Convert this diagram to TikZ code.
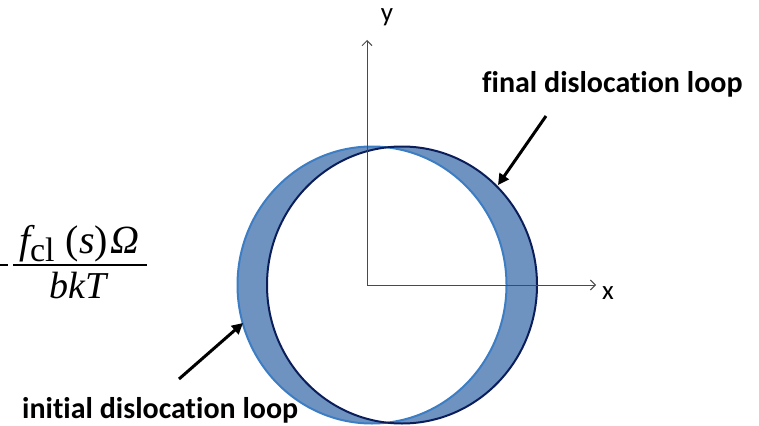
\documentclass[tikz,border=0pt]{standalone}
\usepackage{fontspec}
\setmainfont{Carlito}[Ligatures={NoCommon}]
\newfontfamily\tm{Liberation Serif}
\usetikzlibrary{arrows.meta}
\definecolor{loopfill}{HTML}{6F93C1}
\definecolor{initc}{HTML}{3C7DC3}
\definecolor{finalc}{HTML}{0C1E5A}
\definecolor{axisc}{HTML}{4A4A4A}
\tikzset{
  axisline/.style={draw=axisc, line width=1pt, -{Straight Barb[length=5pt,width=10pt]}},
  pointer/.style={draw=black, line width=3pt, -{Triangle[length=11pt,width=11pt]}},
  lbl/.style={font=\fontsize{30}{36}\selectfont\bfseries, inner sep=0, anchor=base west},
  axlbl/.style={font=\fontsize{27}{32}\selectfont, inner sep=0, anchor=base},
  formula/.style={font=\fontsize{40}{46}\selectfont\tm, inner sep=0, anchor=base}
}
\begin{document}
\begin{tikzpicture}[x=1pt,y=-1pt]
\useasboundingbox (0,0) rectangle (759,425);
% crescents (symmetric difference of the two loops)
\fill[loopfill, even odd rule] (372,285) ellipse [x radius=134.5, y radius=138.5]
                               (402,285) ellipse [x radius=135, y radius=138.5];
\draw[initc, line width=2pt] (372,285) ellipse [x radius=134.5, y radius=138.5];
\draw[finalc, line width=2pt] (402,285) ellipse [x radius=135, y radius=138.5];
% axes
\coordinate (O) at (367,285);
\coordinate (ytip) at (367,40);
\coordinate (xtip) at (596,285);
\draw[axisline] (O) -- (ytip);
\draw[axisline] (O) -- (xtip);
\node[axlbl] (ylab) at (387,22) {y};
\node[axlbl] (xlab) at (608,299) {x};
% labels and pointers
\node[lbl] (final) at (482,93) {final dislocation loop};
\node[lbl] (initial) at (22,418) {initial dislocation loop};
\coordinate (fs) at (546,116);
\coordinate (fe) at (498,185);
\coordinate (is) at (179,379);
\coordinate (ie) at (243,323);
\draw[pointer] (fs) -- (fe);
\draw[pointer] (is) -- (ie);
% formula
\node[formula] (num) at (79,253) {\itshape f\upshape\raisebox{-0.22em}{\fontsize{34}{38}\selectfont cl}\hspace{0.28em}(\itshape s\upshape)\hspace{0.05em}\itshape Ω};
\node[formula, font=\fontsize{38}{44}\selectfont\tm] (den) at (78,298) {\itshape bkT};
\coordinate (bl) at (13,265);
\coordinate (br) at (147,265);
\draw[line width=1.6pt] (bl) -- (br);
\coordinate (ml) at (-14,265);
\coordinate (mr) at (8,265);
\draw[line width=1.6pt] (ml) -- (mr);
\end{tikzpicture}
\end{document}
